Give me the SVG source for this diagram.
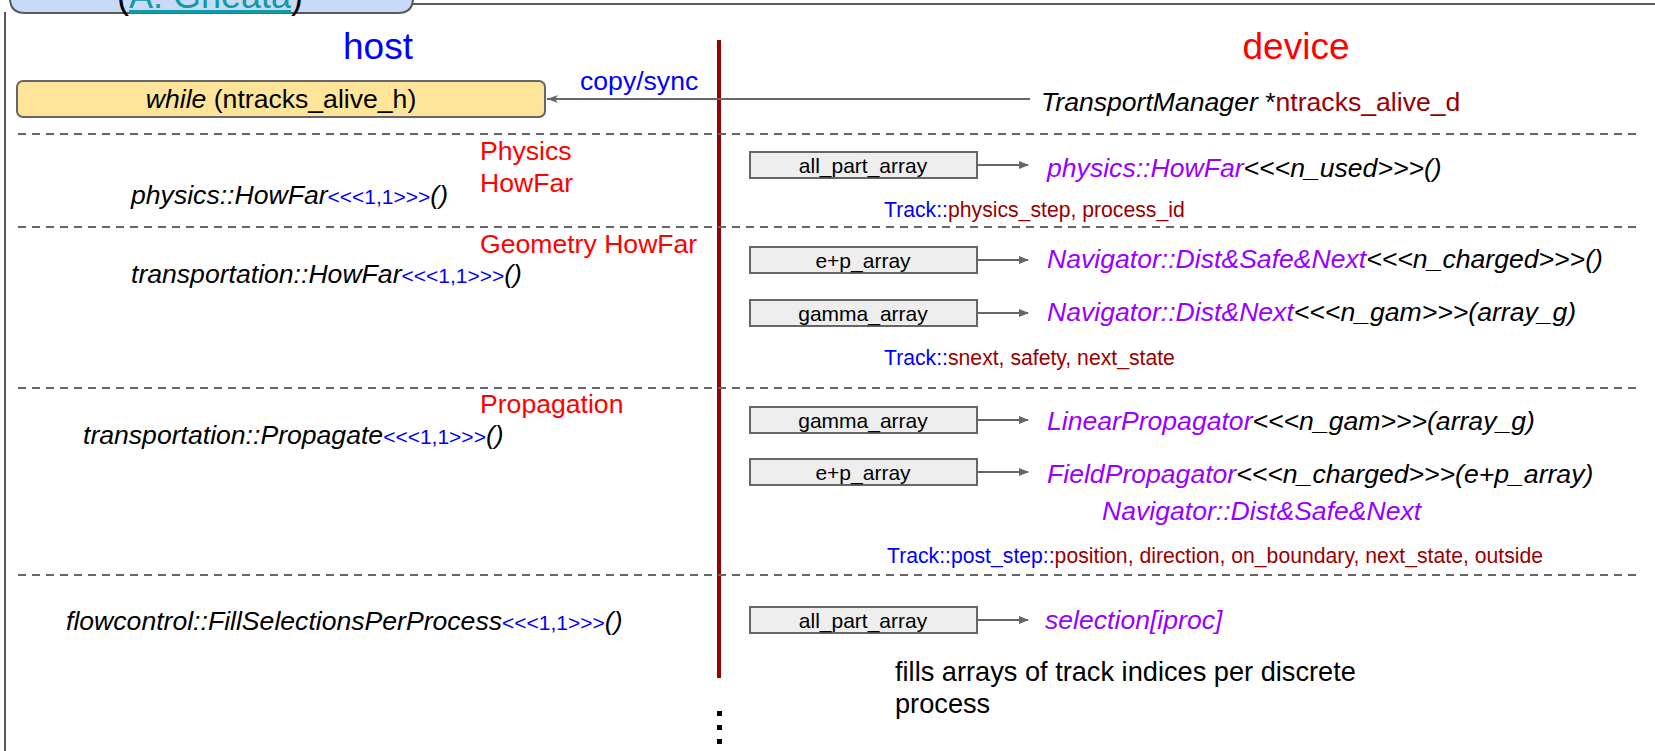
<svg xmlns="http://www.w3.org/2000/svg" width="1655" height="751" viewBox="0 0 1655 751">
  <defs>
    <style>
      text { font-family: "Liberation Sans", Arial, sans-serif; }
      .head { font-size: 37px; }
      .code { font-size: 26.6px; font-style: italic; fill: #000; }
      .grid { font-size: 21px; font-style: normal; fill: #0000ff; }
      .lbl { font-size: 26.6px; fill: #ff0000; }
      .purple { fill: #9900ff; }
      .dred { fill: #990000; }
      .blue { fill: #0000ff; }
      .note { font-size: 21.2px; }
      .box { fill: #eeeeee; stroke: #666666; stroke-width: 2; }
      .boxtxt { font-size: 21px; text-anchor: middle; fill: #000; }
      .sep { stroke: #666666; stroke-width: 2; stroke-dasharray: 8 6; fill: none; }
      .conn { stroke: #666666; stroke-width: 2; fill: none; }
      .frame { stroke: #595959; stroke-width: 2; fill: none; }
    </style>
    <marker id="arrowFilled" markerWidth="10" markerHeight="8" refX="9" refY="4" orient="auto" markerUnits="userSpaceOnUse">
      <path d="M0,0 L10,4 L0,8 z" fill="#666666"/>
    </marker>
    <marker id="arrowThin" markerWidth="12" markerHeight="10" refX="11" refY="5" orient="auto" markerUnits="userSpaceOnUse">
      <path d="M0,1 L11,5 L0,9 L3,5 z" fill="#666666"/>
    </marker>
  </defs>

  <rect width="1655" height="751" fill="#ffffff"/>

  <!-- outer frame and title tab -->
  <g id="frame">
    <path class="frame" d="M5,12 V751"/>
    <path class="frame" d="M410,4 H1655"/>
    <path d="M10,-20 V-2 Q10,13 25,13 H398 Q413,13 413,-2 V-20 z" fill="#c9daf8" stroke="#595959" stroke-width="2"/>
    <text x="117" y="8" font-size="36"><tspan fill="#000">(</tspan><tspan fill="#0e9aa7" text-decoration="underline">A. Gheata</tspan><tspan fill="#000">)</tspan></text>
  </g>

  <!-- column headings -->
  <g id="headings">
    <text class="head" x="378" y="59" text-anchor="middle" fill="#0000ff">host</text>
    <text class="head" x="1296" y="59" text-anchor="middle" fill="#ff0000">device</text>
  </g>

  <!-- host / device divider -->
  <g id="divider">
    <line x1="719" y1="40" x2="719" y2="678" stroke="#990000" stroke-width="4"/>
    <rect x="717" y="711" width="5" height="5" fill="#000"/>
    <rect x="717" y="725" width="5" height="5" fill="#000"/>
    <rect x="717" y="739" width="5" height="5" fill="#000"/>
  </g>

  <!-- stage separators -->
  <g id="separators">
    <line class="sep" x1="18" y1="134" x2="1640" y2="134"/>
    <line class="sep" x1="18" y1="227" x2="1640" y2="227"/>
    <line class="sep" x1="18" y1="388" x2="1640" y2="388"/>
    <line class="sep" x1="18" y1="575" x2="1640" y2="575"/>
  </g>

  <!-- loop condition -->
  <g id="while-loop">
    <rect x="17" y="81" width="528" height="36" rx="6" fill="#ffe599" stroke="#666666" stroke-width="2"/>
    <text x="281" y="108" font-size="26.6" text-anchor="middle"><tspan font-style="italic">while</tspan> (ntracks_alive_h)</text>
  </g>

  <g id="ntracks-device">
    <text x="1041" y="111" class="code">TransportManager <tspan font-style="normal">*</tspan><tspan class="dred" font-style="normal">ntracks_alive_d</tspan></text>
  </g>

  <!-- host side kernels -->
  <g id="host-physics-howfar">
    <text class="lbl" x="480" y="160">Physics</text>
    <text class="lbl" x="480" y="192">HowFar</text>
    <text class="code" x="131" y="204">physics::HowFar<tspan class="grid">&lt;&lt;&lt;1,1&gt;&gt;&gt;</tspan>()</text>
  </g>
  <g id="host-geometry-howfar">
    <text class="lbl" x="480" y="253">Geometry HowFar</text>
    <text class="code" x="131" y="283">transportation::HowFar<tspan class="grid">&lt;&lt;&lt;1,1&gt;&gt;&gt;</tspan>()</text>
  </g>
  <g id="host-propagation">
    <text class="lbl" x="480" y="413">Propagation</text>
    <text class="code" x="83" y="444">transportation::Propagate<tspan class="grid">&lt;&lt;&lt;1,1&gt;&gt;&gt;</tspan>()</text>
  </g>
  <g id="host-selection">
    <text class="code" x="66" y="630">flowcontrol::FillSelectionsPerProcess<tspan class="grid">&lt;&lt;&lt;1,1&gt;&gt;&gt;</tspan>()</text>
  </g>

  <!-- device side: physics step -->
  <g id="dev-physics">
    <rect class="box" x="750" y="152" width="227" height="26"/>
    <text class="boxtxt" x="863" y="173">all_part_array</text>
    <text class="code" x="1047" y="177"><tspan class="purple">physics::HowFar</tspan>&lt;&lt;&lt;n_used&gt;&gt;&gt;()</text>
    <text class="note" x="884" y="217"><tspan class="blue">Track::</tspan><tspan class="dred">physics_step, process_id</tspan></text>
  </g>

  <!-- device side: geometry step -->
  <g id="dev-geom-charged">
    <rect class="box" x="750" y="247" width="227" height="26"/>
    <text class="boxtxt" x="863" y="268">e+p_array</text>
    <text class="code" x="1047" y="268"><tspan class="purple">Navigator::Dist&amp;Safe&amp;Next</tspan>&lt;&lt;&lt;n_charged&gt;&gt;&gt;()</text>
  </g>
  <g id="dev-geom-gamma">
    <rect class="box" x="750" y="300" width="227" height="26"/>
    <text class="boxtxt" x="863" y="321">gamma_array</text>
    <text class="code" x="1047" y="321"><tspan class="purple">Navigator::Dist&amp;Next</tspan>&lt;&lt;&lt;n_gam&gt;&gt;&gt;(array_g)</text>
    <text class="note" x="884" y="365"><tspan class="blue">Track::</tspan><tspan class="dred">snext, safety, next_state</tspan></text>
  </g>

  <!-- device side: propagation -->
  <g id="dev-prop-gamma">
    <rect class="box" x="750" y="407" width="227" height="26"/>
    <text class="boxtxt" x="863" y="428">gamma_array</text>
    <text class="code" x="1047" y="430"><tspan class="purple">LinearPropagator</tspan>&lt;&lt;&lt;n_gam&gt;&gt;&gt;(array_g)</text>
  </g>
  <g id="dev-prop-charged">
    <rect class="box" x="750" y="459" width="227" height="26"/>
    <text class="boxtxt" x="863" y="480">e+p_array</text>
    <text class="code" x="1047" y="483"><tspan class="purple">FieldPropagator</tspan>&lt;&lt;&lt;n_charged&gt;&gt;&gt;(e+p_array)</text>
    <text class="code purple" x="1102" y="520">Navigator::Dist&amp;Safe&amp;Next</text>
    <text class="note" x="887" y="563"><tspan class="blue">Track::post_step::</tspan><tspan class="dred">position, direction, on_boundary, next_state, outside</tspan></text>
  </g>

  <!-- device side: process selection -->
  <g id="dev-selection">
    <rect class="box" x="750" y="607" width="227" height="26"/>
    <text class="boxtxt" x="863" y="628">all_part_array</text>
    <text class="code purple" x="1045" y="629">selection[iproc]</text>
    <text x="895" y="681" font-size="27.2">fills arrays of track indices per discrete</text>
    <text x="895" y="713" font-size="27.2">process</text>
  </g>

  <!-- connectors -->
  <g id="connectors">
    <line class="conn" x1="1030" y1="99" x2="547" y2="99" marker-end="url(#arrowThin)"/>
    <text x="580" y="90" font-size="26.6" fill="#0000ff">copy/sync</text>
    <line class="conn" x1="978" y1="165" x2="1028" y2="165" marker-end="url(#arrowFilled)"/>
    <line class="conn" x1="978" y1="260" x2="1028" y2="260" marker-end="url(#arrowFilled)"/>
    <line class="conn" x1="978" y1="313" x2="1028" y2="313" marker-end="url(#arrowFilled)"/>
    <line class="conn" x1="978" y1="420" x2="1028" y2="420" marker-end="url(#arrowFilled)"/>
    <line class="conn" x1="978" y1="472" x2="1028" y2="472" marker-end="url(#arrowFilled)"/>
    <line class="conn" x1="978" y1="620" x2="1028" y2="620" marker-end="url(#arrowFilled)"/>
  </g>
</svg>
